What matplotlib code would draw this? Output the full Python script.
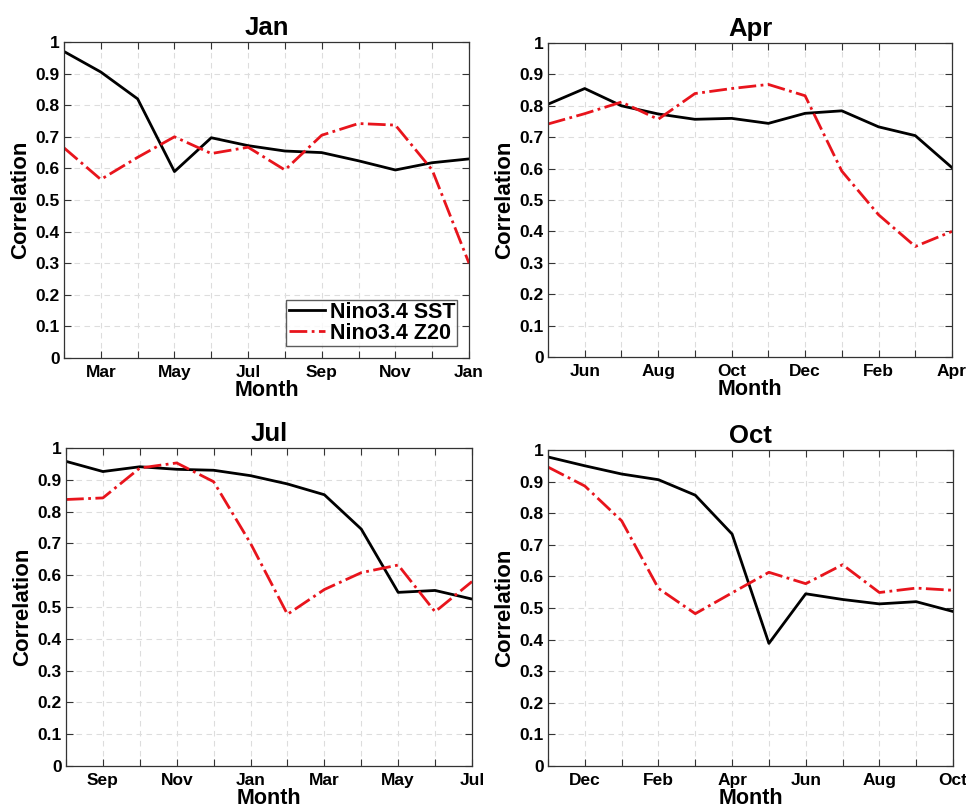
import numpy as np
import matplotlib.pyplot as plt

plt.rcParams['font.family'] = ['Liberation Sans', 'DejaVu Sans']
plt.rcParams['font.weight'] = 'bold'

months = ['Jan', 'Feb', 'Mar', 'Apr', 'May', 'Jun',
          'Jul', 'Aug', 'Sep', 'Oct', 'Nov', 'Dec']
lead = np.arange(1, 13)

# initial months of each panel
init_months = ['Jan', 'Apr', 'Jul', 'Oct']

# Nino3.4 SST correlation, leads 1..12
sst_jan = [0.97, 0.905, 0.82, 0.59, 0.697, 0.672, 0.655, 0.65, 0.624, 0.595, 0.618, 0.63]
sst_apr = [0.805, 0.855, 0.80, 0.774, 0.757, 0.76, 0.744, 0.776, 0.784, 0.733, 0.705, 0.603]
sst_jul = [0.958, 0.926, 0.941, 0.933, 0.93, 0.913, 0.887, 0.853, 0.745, 0.546, 0.552, 0.525]
sst_oct = [0.978, 0.95, 0.924, 0.906, 0.857, 0.734, 0.388, 0.545, 0.527, 0.513, 0.52, 0.489]

# Nino3.4 Z20 correlation, leads 1..12
z20_jan = [0.665, 0.565, 0.635, 0.70, 0.647, 0.667, 0.595, 0.705, 0.742, 0.737, 0.595, 0.30]
z20_apr = [0.742, 0.775, 0.812, 0.757, 0.839, 0.855, 0.868, 0.832, 0.592, 0.453, 0.352, 0.40]
z20_jul = [0.838, 0.843, 0.937, 0.953, 0.894, 0.70, 0.477, 0.555, 0.608, 0.632, 0.485, 0.58]
z20_oct = [0.946, 0.886, 0.776, 0.562, 0.482, 0.548, 0.613, 0.577, 0.637, 0.549, 0.563, 0.556]

sst = [sst_jan, sst_apr, sst_jul, sst_oct]
z20 = [z20_jan, z20_apr, z20_jul, z20_oct]

W, H = 966, 807
# axes boxes in pixels: left, top, right, bottom
boxes = [(64, 42, 469, 358), (548, 43, 952, 357),
         (66, 448, 472, 766), (548, 450, 953, 766)]

fig = plt.figure(figsize=(W/100, H/100), dpi=100)

for k in range(4):
    l, t, r, b = boxes[k]
    ax = fig.add_axes([l/W, 1 - b/H, (r - l)/W, (b - t)/H])
    ax.plot(lead, sst[k], '-', color='black', lw=2, label='Nino3.4 SST')
    ax.plot(lead, z20[k], '-.', color='#e8141c', lw=2, label='Nino3.4 Z20')

    m0 = months.index(init_months[k])
    labs = []
    for i in lead:
        name = months[(m0 + i) % 12]
        labs.append(name if i % 2 == 0 else '')
    ax.set_xticks(lead)
    ax.set_xticklabels(labs)
    ax.set_xlim(1, 12)
    ax.set_ylim(0, 1)
    ax.set_yticks(np.arange(0, 1.01, 0.1))
    ax.set_yticklabels(['0'] + ['%.1f' % v for v in np.arange(0.1, 0.95, 0.1)] + ['1'])
    ax.tick_params(direction='in', top=True, right=True, length=5, width=0.8,
                   labelsize=12.5, color='#333333', pad=3)
    ax.tick_params(axis='x', pad=5)
    ax.grid(True, ls=(0, (5, 4)), color='#dddddd', lw=0.8)
    for s in ax.spines.values():
        s.set_color('#333333')
        s.set_linewidth(0.9)
    ax.set_title(init_months[k], fontsize=18.5, fontweight='bold', pad=5)
    ax.set_xlabel('Month', fontsize=15.5, fontweight='bold', labelpad=0)
    ax.set_ylabel('Correlation', fontsize=16, fontweight='bold', labelpad=3)
    if k == 0:
        leg = ax.legend(loc='lower right', fontsize=15.5, frameon=True, fancybox=False,
                        borderpad=0.1, handlelength=1.7, handletextpad=0.2,
                        labelspacing=0.0, borderaxespad=0.55)
        leg.get_frame().set_edgecolor('#333333')
        leg.get_frame().set_linewidth(1)
        for txt in leg.get_texts():
            txt.set_fontweight('bold')

fig.savefig('out.png', dpi=100)
